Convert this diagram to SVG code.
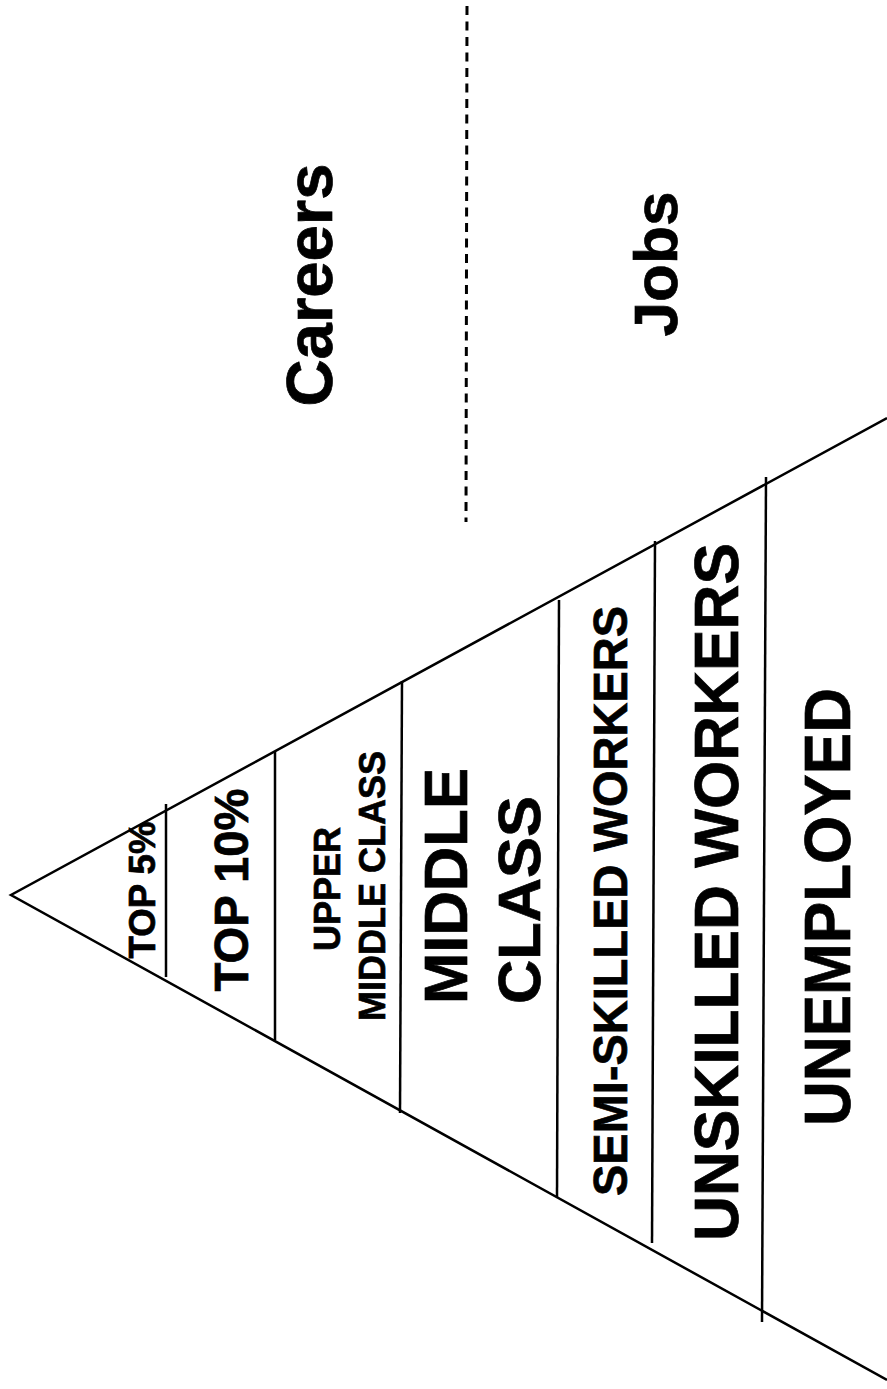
<svg xmlns="http://www.w3.org/2000/svg" width="887" height="1389" viewBox="0 0 887 1389">
<style>
.ln{stroke:#000;stroke-width:2.5;fill:none;stroke-linecap:butt}
.dash{stroke:#000;stroke-width:3;fill:none;stroke-dasharray:9 6.5}
text{font-family:"Liberation Sans",Arial,sans-serif;font-weight:bold;fill:#000;stroke:#000;stroke-width:0.7;text-anchor:middle}
</style>
<rect width="887" height="1389" fill="#fff"/>
<g id="connectors">
<polyline class="ln" points="887,418 11,895 887,1380"/>
<line class="ln" x1="166" y1="804" x2="166" y2="977"/>
<line class="ln" x1="275" y1="751" x2="275" y2="1040"/>
<line class="ln" x1="402" y1="681" x2="400" y2="1113"/>
<line class="ln" x1="559" y1="600" x2="557" y2="1197"/>
<line class="ln" x1="655" y1="541" x2="652" y2="1243"/>
<line class="ln" x1="766" y1="477" x2="762" y2="1322"/>
<line class="dash" x1="467" y1="6" x2="466" y2="522"/>
</g>
<g id="top5"><text transform="translate(155,890) rotate(-90)" font-size="37" textLength="137" lengthAdjust="spacingAndGlyphs">TOP 5%</text></g>
<g id="top10"><text transform="translate(248,890) rotate(-90)" font-size="48" textLength="203" lengthAdjust="spacingAndGlyphs">TOP 10%</text></g>
<g id="upper-middle">
<text transform="translate(340,889) rotate(-90)" font-size="36" textLength="124" lengthAdjust="spacingAndGlyphs">UPPER</text>
<text transform="translate(385,886) rotate(-90)" font-size="36" textLength="270" lengthAdjust="spacingAndGlyphs">MIDDLE CLASS</text>
</g>
<g id="middle">
<text transform="translate(467,886) rotate(-90)" font-size="61" textLength="236" lengthAdjust="spacingAndGlyphs">MIDDLE</text>
<text transform="translate(540,900) rotate(-90)" font-size="60" textLength="208" lengthAdjust="spacingAndGlyphs">CLASS</text>
</g>
<g id="semi"><text transform="translate(627,901) rotate(-90)" font-size="48" textLength="590" lengthAdjust="spacingAndGlyphs">SEMI-SKILLED WORKERS</text></g>
<g id="unskilled"><text transform="translate(738,892) rotate(-90)" font-size="63" textLength="698" lengthAdjust="spacingAndGlyphs">UNSKILLED WORKERS</text></g>
<g id="unemployed"><text transform="translate(850,907) rotate(-90)" font-size="65" textLength="438" lengthAdjust="spacingAndGlyphs">UNEMPLOYED</text></g>
<g id="careers"><text transform="translate(332,285) rotate(-90)" font-size="64" textLength="243" lengthAdjust="spacingAndGlyphs">Careers</text></g>
<g id="jobs"><text transform="translate(677,264) rotate(-90)" font-size="62" textLength="145" lengthAdjust="spacingAndGlyphs">Jobs</text></g>
</svg>
